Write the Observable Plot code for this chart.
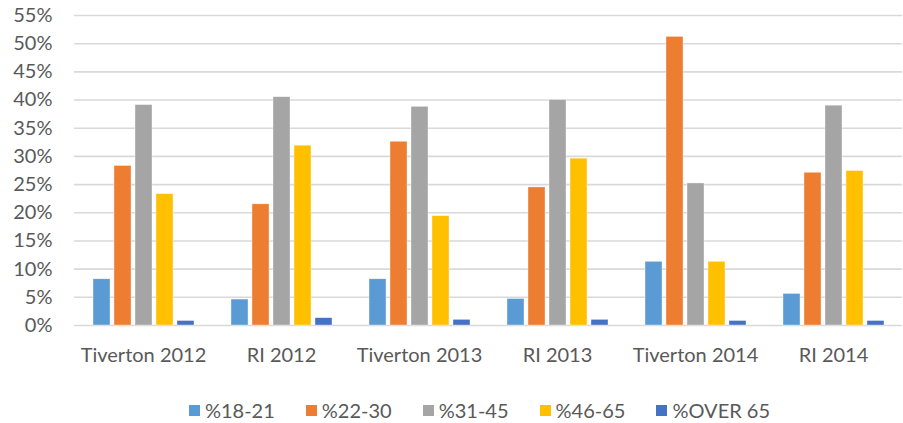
<!DOCTYPE html>
<html>
<head>
<meta charset="utf-8">
<script src="https://cdn.jsdelivr.net/npm/d3@7"></script>
<script src="https://cdn.jsdelivr.net/npm/@observablehq/plot@0.6"></script>
<style>
  html, body { margin: 0; padding: 0; background: #fff; }
  body { width: 903px; height: 423px; overflow: hidden; font-family: Lato, "Open Sans", sans-serif; }
  #legend { display: flex; justify-content: center; gap: 31px; font-size: 20px; color: #595959; margin-top: 13px; padding-left: 56px; }
  .item { display: flex; align-items: center; gap: 5px; }
  .sw { width: 11px; height: 11px; display: inline-block; }
</style>
</head>
<body>
<div id="chart"></div>
<div id="legend"></div>
<script>
const groups = ["Tiverton 2012", "RI 2012", "Tiverton 2013", "RI 2013", "Tiverton 2014", "RI 2014"];
const series = ["%18-21", "%22-30", "%31-45", "%46-65", "%OVER 65"];
const colors = ["#5B9BD5", "#ED7D31", "#A5A5A5", "#FFC000", "#4472C4"];
const yTicks = [0, 5, 10, 15, 20, 25, 30, 35, 40, 45, 50, 55];
// values in percent, one array per series, ordered as groups
const s18_21  = [8.2, 4.6, 8.2, 4.7, 11.3, 5.6];
const s22_30  = [28.3, 21.5, 32.6, 24.5, 51.2, 27.1];
const s31_45  = [39.1, 40.5, 38.8, 40.0, 25.2, 39.0];
const s46_65  = [23.3, 31.9, 19.4, 29.6, 11.3, 27.4];
const sOver65 = [0.8, 1.3, 1.0, 1.0, 0.8, 0.8];

const seriesValues = [s18_21, s22_30, s31_45, s46_65, sOver65];
const data = [];
groups.forEach((g, gi) => {
  series.forEach((s, si) => data.push({group: g, series: s, value: seriesValues[si][gi]}));
});

const chart = Plot.plot({
  width: 903,
  height: 385,
  marginLeft: 73,
  marginRight: 0,
  marginTop: 15,
  marginBottom: 60,
  style: {fontFamily: "Lato, 'Open Sans', sans-serif", fontSize: "20px", color: "#595959", background: "#fff"},
  fx: {domain: groups, paddingInner: 0, paddingOuter: 0, label: null},
  x: {domain: series, paddingInner: 0.2, paddingOuter: 0.817, axis: null},
  y: {domain: [0, 55], label: null},
  color: {domain: series, range: colors},
  marks: [
    Plot.ruleY(yTicks, {stroke: "#d9d9d9", strokeWidth: 1.6}),
    Plot.barY(data, {fx: "group", x: "series", y: "value", fill: "series", stroke: "white", strokeWidth: 0.6, strokeOpacity: 0.6}),
    Plot.axisY(yTicks, {tickSize: 0, tickPadding: 22, tickFormat: d => d + "%", fontSize: 20, fill: "#595959", label: null}),
    Plot.axisFx({anchor: "bottom", tickSize: 0, tickPadding: 22, fontSize: 20, fill: "#595959", label: null})
  ]
});
document.getElementById("chart").appendChild(chart);

const legend = document.getElementById("legend");
series.forEach((s, i) => {
  const item = document.createElement("div");
  item.className = "item";
  const sw = document.createElement("span");
  sw.className = "sw";
  sw.style.background = colors[i];
  const t = document.createElement("span");
  t.textContent = s;
  item.appendChild(sw);
  item.appendChild(t);
  legend.appendChild(item);
});
</script>
</body>
</html>
